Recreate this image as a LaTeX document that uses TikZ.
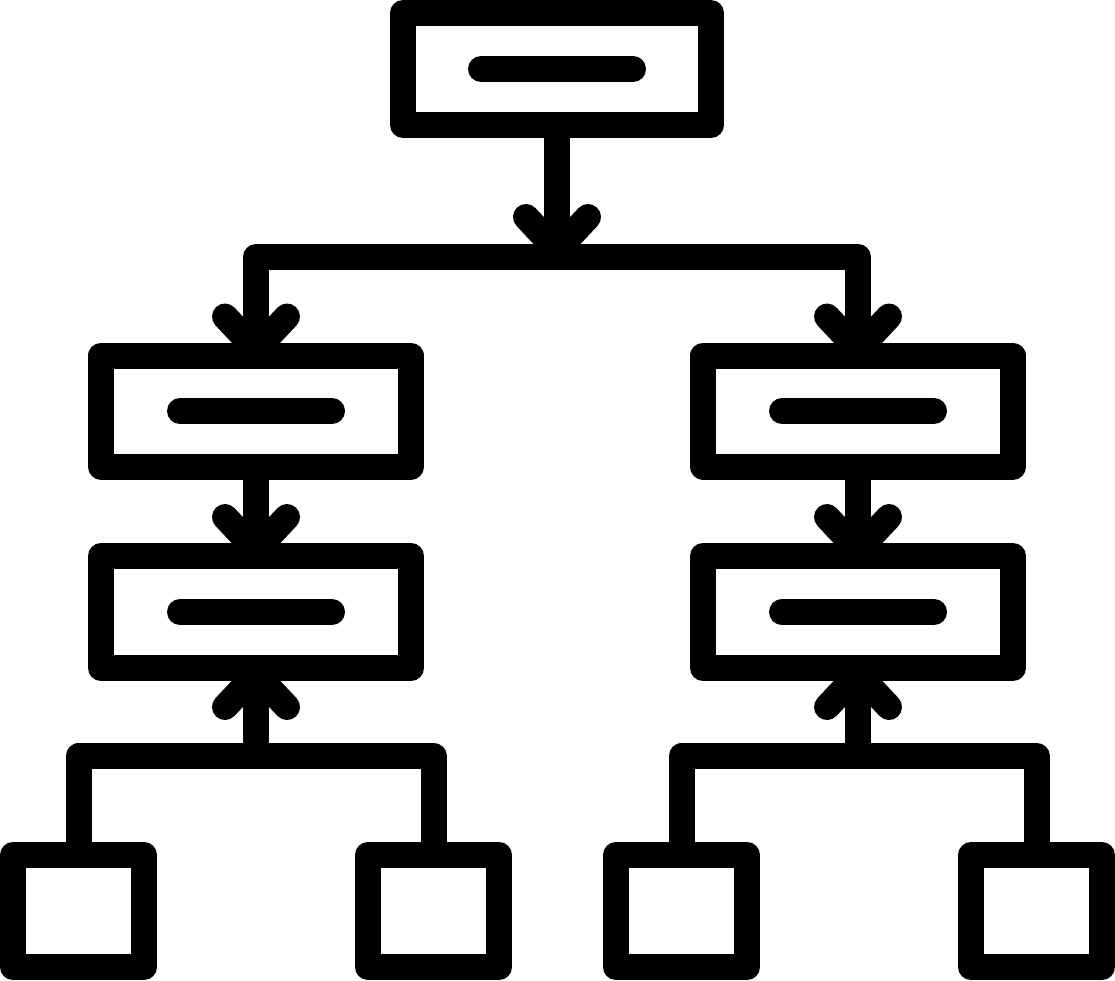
\documentclass[tikz,border=0pt]{standalone}
\usepackage{tikz}
\usetikzlibrary{calc}

\begin{document}
\begin{tikzpicture}[line width=0.26cm,line join=round,
    box/.style={draw,outer sep=0pt,inner sep=0pt,minimum width=3.1cm,minimum height=1.11cm},
    leaf/.style={draw,outer sep=0pt,inner sep=0pt,minimum width=1.31cm,minimum height=1.12cm},
    bar/.style={line cap=round},
    pics/chev/.style={code={\draw[line cap=round] (-0.31,0.33) -- (0,0) -- (0.31,0.33);}}]
    \useasboundingbox (0,0) rectangle (11.15,9.8);

    \node at (5.57,9.11) [box,minimum width=3.08cm,minimum height=1.12cm] (top) {};

    \node at (2.56,5.69) [box] (midL) {};
    \node at (8.58,5.69) [box] (midR) {};
    \node at (2.56,3.68) [box,minimum height=1.12cm] (lowL) {};
    \node at (8.58,3.68) [box,minimum height=1.12cm] (lowR) {};

    \node at (0.785,0.69) [leaf] (leafA) {};
    \node at (4.335,0.69) [leaf] (leafB) {};
    \node at (6.815,0.69) [leaf] (leafC) {};
    \node at (10.365,0.69) [leaf] (leafD) {};

    % bars inside the boxes
    \foreach \b in {top,midL,midR,lowL,lowR}
        \draw[bar] ($(\b.center)+(-0.76,0)$) -- ($(\b.center)+(0.76,0)$);

    % top split
    \coordinate (split) at (5.57,7.23);
    \draw (top.south) -- (split);
    \draw (midL.north) |- (split) -| (midR.north);
    \pic at ($(split)+(0,0.07)$) {chev};
    \pic at ($(midL.north)+(0,0.06)$) {chev};
    \pic at ($(midR.north)+(0,0.06)$) {chev};

    % middle to lower
    \draw (midL.south) -- (lowL.north);
    \draw (midR.south) -- (lowR.north);
    \pic at ($(lowL.north)+(0,0.06)$) {chev};
    \pic at ($(lowR.north)+(0,0.06)$) {chev};

    % leaves up to lower boxes
    \coordinate (forkL) at (2.56,2.24);
    \coordinate (forkR) at (8.58,2.24);
    \draw (lowL.south) -- (forkL);
    \draw (lowR.south) -- (forkR);
    \draw (leafA.north) |- (forkL) -| (leafB.north);
    \draw (leafC.north) |- (forkR) -| (leafD.north);
    \pic[rotate=180] at ($(lowL.south)+(0,-0.06)$) {chev};
    \pic[rotate=180] at ($(lowR.south)+(0,-0.06)$) {chev};
\end{tikzpicture}
\end{document}
